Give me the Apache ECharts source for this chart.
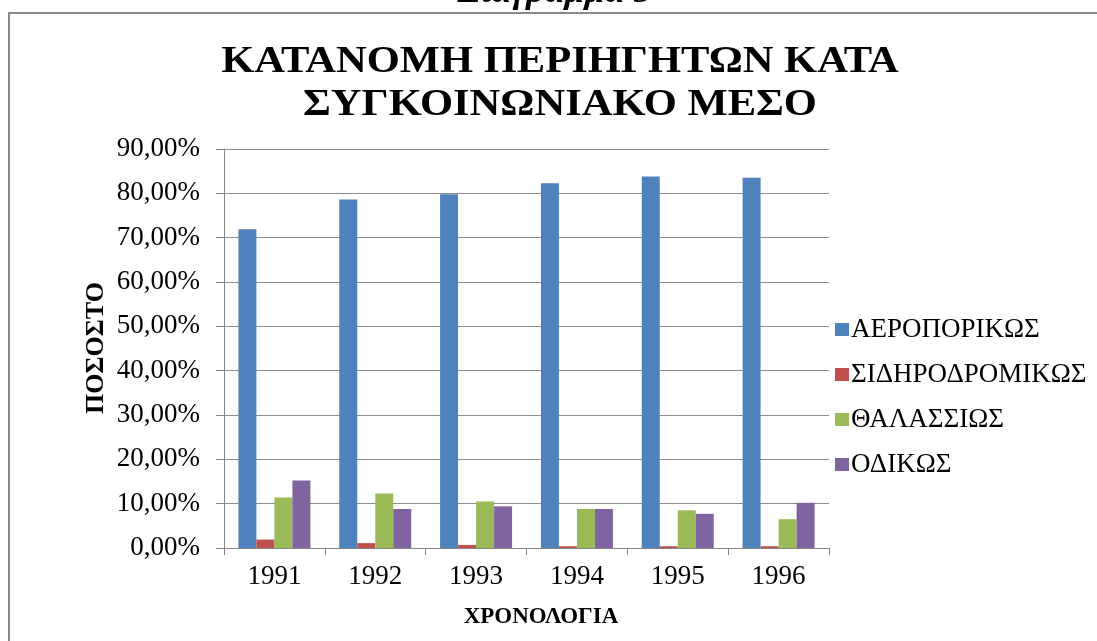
<!DOCTYPE html>
<html>
<head>
<meta charset="utf-8">
<script src="https://cdn.jsdelivr.net/npm/echarts@6/dist/echarts.min.js"></script>
<style>
html,body{margin:0;padding:0;background:#fff;overflow:hidden;}
#c{width:1097px;height:641px;}
</style>
</head>
<body>
<div id="c"></div>
<script>
const years = ['1991', '1992', '1993', '1994', '1995', '1996'];
const seriesNames = ['ΑΕΡΟΠΟΡΙΚΩΣ', 'ΣΙΔΗΡΟΔΡΟΜΙΚΩΣ', 'ΘΑΛΑΣΣΙΩΣ', 'ΟΔΙΚΩΣ'];
const air = [71.9, 78.6, 79.8, 82.3, 83.8, 83.5];
const rail = [1.9, 1.1, 0.7, 0.4, 0.4, 0.4];
const sea = [11.4, 12.3, 10.5, 8.8, 8.5, 6.5];
const road = [15.2, 8.8, 9.4, 8.8, 7.7, 10.2];
const colors = ['#4F81BD', '#C0504D', '#9BBB59', '#8064A2'];
const titleLines = ['ΚΑΤΑΝΟΜΗ ΠΕΡΙΗΓΗΤΩΝ ΚΑΤΑ', 'ΣΥΓΚΟΙΝΩΝΙΑΚΟ ΜΕΣΟ'];
const captionText = 'Διάγραμμα 5';
const xTitle = 'ΧΡΟΝΟΛΟΓΙΑ';
const yTitle = 'ΠΟΣΟΣΤΟ';

const FONT = "'Liberation Serif', 'Times New Roman', serif";
const chart = echarts.init(document.getElementById('c'), null, {renderer: 'canvas'});
const allData = [air, rail, sea, road];

chart.setOption({
  backgroundColor: '#ffffff',
  animation: false,
  color: colors,
  textStyle: {fontFamily: FONT, color: '#000'},
  graphic: [
    {type: 'polyline', shape: {points: [[9, 700], [9, 13], [1300, 13]]},
     style: {fill: 'none', stroke: '#8a8a8a', lineWidth: 2}, silent: true, z: 0},
    {type: 'text', x: 555, y: 11,
     style: {text: captionText, font: "italic bold 36px " + FONT, fill: '#000',
             textAlign: 'center', textVerticalAlign: 'bottom'}},
    {type: 'text', x: 560, y: 62, scaleX: 1.12,
     style: {text: titleLines[0], font: "bold 38px " + FONT, fill: '#000',
             textAlign: 'center', textVerticalAlign: 'middle'}},
    {type: 'text', x: 560, y: 105, scaleX: 1.12,
     style: {text: titleLines[1], font: "bold 38px " + FONT, fill: '#000',
             textAlign: 'center', textVerticalAlign: 'middle'}},
    {type: 'text', x: 541, y: 617,
     style: {text: xTitle, font: "bold 23px " + FONT, fill: '#000',
             textAlign: 'center', textVerticalAlign: 'middle'}},
    {type: 'text', x: 96, y: 348, rotation: Math.PI / 2,
     style: {text: yTitle, font: "bold 26px " + FONT, fill: '#000',
             textAlign: 'center', textVerticalAlign: 'middle'}}
  ],
  grid: {left: 224, right: 268, top: 149, bottom: 93, containLabel: false},
  legend: {
    orient: 'vertical', left: 830, top: 311,
    itemWidth: 14, itemHeight: 13, itemGap: 18,
    icon: 'rect',
    textStyle: {fontFamily: FONT, fontSize: 27, color: '#000', padding: [0, 0, 0, -3]},
    data: seriesNames
  },
  xAxis: {
    type: 'category', data: years, boundaryGap: true,
    axisLine: {show: true, lineStyle: {color: '#868686', width: 1}},
    axisTick: {show: true, alignWithLabel: false, length: 7, lineStyle: {color: '#868686'}},
    axisLabel: {fontFamily: FONT, fontSize: 27, color: '#000', margin: 15}
  },
  yAxis: {
    type: 'value', min: 0, max: 90, interval: 10,
    axisLine: {show: true, lineStyle: {color: '#868686', width: 1}},
    axisTick: {show: true, length: 8, lineStyle: {color: '#868686'}},
    splitLine: {show: true, lineStyle: {color: '#8c8c8c', width: 1}},
    axisLabel: {fontFamily: FONT, fontSize: 27, color: '#000', margin: 24,
      formatter: v => v.toFixed(2).replace('.', ',') + '%'}
  },
  series: seriesNames.map((n, i) => ({
    name: n, type: 'bar', data: allData[i],
    barWidth: 18, barGap: '0%',
    itemStyle: {color: colors[i]}
  }))
});
</script>
</body>
</html>
